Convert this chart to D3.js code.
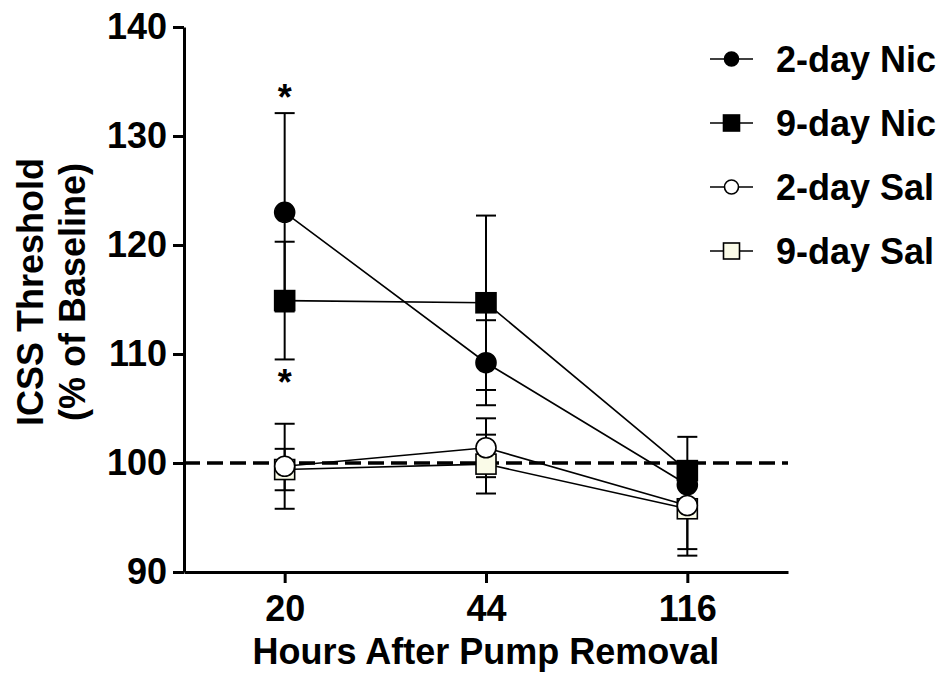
<!DOCTYPE html>
<html>
<head>
<meta charset="utf-8">
<script src="https://cdn.jsdelivr.net/npm/d3@7"></script>
<style>
  body { margin: 0; background: #fff; }
  svg text { font-family: "Liberation Sans", Arial, sans-serif; font-weight: bold; fill: #000; }
</style>
</head>
<body>
<svg id="chart" width="951" height="675"></svg>
<script>
// data
const hours = ["20", "44", "116"];
const seriesNames = ["2-day Nic", "9-day Nic", "2-day Sal", "9-day Sal"];
const nic2 = [123.0, 109.2, 98.0];
const nic2Err = [9.1, 3.9, 2.0];
const nic9 = [114.9, 114.7, 99.3];
const nic9Err = [5.4, 8.0, 3.1];
const sal2 = [99.7, 101.4, 96.1];
const sal2Err = [3.9, 2.7, 4.0];
const sal9 = [99.4, 99.9, 95.8];
const sal9Err = [1.9, 2.7, 4.3];
const yTicks = [90, 100, 110, 120, 130, 140];
const baseline = 100;
// significance stars: [hour, value at text baseline]
const stars = [["20", 132.4], ["20", 106.2]];

const series = [
  { name: seriesNames[0], vals: nic2, err: nic2Err, shape: "circle", fill: "#000" },
  { name: seriesNames[1], vals: nic9, err: nic9Err, shape: "square", fill: "#000" },
  { name: seriesNames[2], vals: sal2, err: sal2Err, shape: "circle", fill: "#fff" },
  { name: seriesNames[3], vals: sal9, err: sal9Err, shape: "square", fill: "#fafbe8" }
];

const svg = d3.select("#chart");
const plotL = 184, plotR = 788, plotT = 27, plotB = 572;

const x = d3.scalePoint().domain(hours).range([plotL, plotR]).padding(0.5);
const y = d3.scaleLinear().domain([90, 140]).range([plotB, plotT]);

// axes
const yAxis = svg.append("g")
  .attr("transform", "translate(" + plotL + ",0)")
  .call(d3.axisLeft(y).tickValues(yTicks).tickSize(11).tickSizeOuter(0).tickPadding(6));
const xAxis = svg.append("g")
  .attr("transform", "translate(0," + plotB + ")")
  .call(d3.axisBottom(x).tickSize(11).tickSizeOuter(0).tickPadding(12));

[yAxis, xAxis].forEach(a => {
  a.select(".domain").attr("stroke", "#000").attr("stroke-width", 3);
  a.selectAll(".tick line").attr("stroke", "#000").attr("stroke-width", 3);
  a.selectAll(".tick text").style("font-size", "36px");
});

// 100% baseline
svg.append("line")
  .attr("x1", plotL).attr("x2", plotR)
  .attr("y1", y(baseline)).attr("y2", y(baseline))
  .attr("stroke", "#000").attr("stroke-width", 3.5)
  .attr("stroke-dasharray", "16,7");

const lineGen = d3.line().x((d, i) => x(hours[i])).y(d => y(d));

// connecting lines
series.forEach(s => {
  svg.append("path")
    .attr("d", lineGen(s.vals))
    .attr("fill", "none")
    .attr("stroke", "#000")
    .attr("stroke-width", 1.6);
});

// error bars (mean +/- sem)
const cap = 10;
series.forEach(s => {
  s.vals.forEach((v, i) => {
    const cx = x(hours[i]);
    const g = svg.append("g").attr("stroke", "#000").attr("stroke-width", 2);
    g.append("line").attr("x1", cx).attr("x2", cx).attr("y1", y(v + s.err[i])).attr("y2", y(v - s.err[i]));
    g.append("line").attr("x1", cx - cap).attr("x2", cx + cap).attr("y1", y(v + s.err[i])).attr("y2", y(v + s.err[i]));
    g.append("line").attr("x1", cx - cap).attr("x2", cx + cap).attr("y1", y(v - s.err[i])).attr("y2", y(v - s.err[i]));
  });
});

function marker(g, s, cx, cy, size) {
  if (s.shape == "circle") {
    g.append("circle").attr("cx", cx).attr("cy", cy).attr("r", size / 2)
      .attr("fill", s.fill).attr("stroke", "#000").attr("stroke-width", 1.6);
  } else {
    g.append("rect").attr("x", cx - size / 2).attr("y", cy - size / 2)
      .attr("width", size).attr("height", size)
      .attr("fill", s.fill).attr("stroke", "#000").attr("stroke-width", 1.6);
  }
}

// markers, salines first so nicotine sits on top
const drawOrder = [3, 2, 1, 0];
drawOrder.forEach(k => {
  const s = series[k];
  const g = svg.append("g");
  s.vals.forEach((v, i) => marker(g, s, x(hours[i]), y(v), 20));
});

// stars
svg.selectAll(".star")
  .data(stars)
  .join("text")
  .attr("class", "star")
  .attr("x", d => x(d[0]))
  .attr("y", d => y(d[1]))
  .attr("text-anchor", "middle")
  .style("font-size", "36px")
  .text("*");

// axis titles
svg.append("text")
  .attr("transform", "translate(43,292) rotate(-90)")
  .attr("text-anchor", "middle")
  .style("font-size", "36px")
  .text("ICSS Threshold");
svg.append("text")
  .attr("transform", "translate(85,292) rotate(-90)")
  .attr("text-anchor", "middle")
  .style("font-size", "36px")
  .text("(% of Baseline)");
svg.append("text")
  .attr("x", (plotL + plotR) / 2)
  .attr("y", 664)
  .attr("text-anchor", "middle")
  .style("font-size", "36px")
  .text("Hours After Pump Removal");

// legend
const legend = svg.append("g");
series.forEach((s, i) => {
  const ly = 59 + i * 64;
  legend.append("line").attr("x1", 710).attr("x2", 753).attr("y1", ly).attr("y2", ly)
    .attr("stroke", "#000").attr("stroke-width", 1.6);
  marker(legend, s, 731.5, ly, s.shape == "circle" ? 14 : 16);
  legend.append("text").attr("x", 776).attr("y", ly + 13)
    .style("font-size", "36px")
    .text(s.name);
});
</script>
</body>
</html>
